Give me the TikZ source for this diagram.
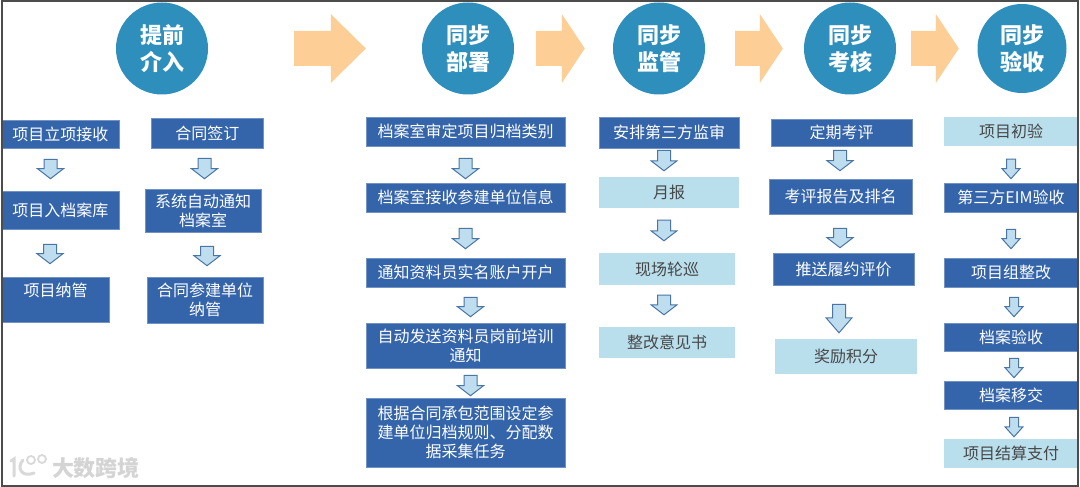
\documentclass[tikz,border=0pt]{standalone}
\usepackage{fontspec}
\setmainfont{Noto Sans CJK SC}
\usepackage{xcolor}
\usetikzlibrary{calc}

\definecolor{stagecol}{HTML}{2E8FBC}
\definecolor{bigarrowcol}{HTML}{FDCF96}
\definecolor{darkcol}{HTML}{3464AA}
\definecolor{lightcol}{HTML}{B9DEEC}
\definecolor{flowcol}{HTML}{BEDDEE}
\definecolor{flowline}{HTML}{4A76A6}

\tikzset{
  stage/.style={circle,fill=stagecol,text=white,minimum size=92pt,inner sep=0pt,align=center,
    font=\fontsize{22}{27}\selectfont\bfseries},
  darkbox/.style={draw=darkcol!70!white,line width=0.6pt,fill=darkcol,text=white,inner sep=0pt,align=center,
    font=\fontsize{16}{19}\selectfont},
  lightbox/.style={fill=lightcol,text=black!72,inner sep=0pt,align=center,
    font=\fontsize{16}{19}\selectfont},
  % block arrows: shaft half width / head half width / head length
  downblock/.style args={#1/#2/#3}{draw=flowline,line width=1pt,fill=flowcol,line join=miter,
    to path={let \p1=(\tikztostart),\p2=(\tikztotarget) in
      (\x1-#1pt,\y1) -- (\x1+#1pt,\y1) -- (\x1+#1pt,\y2+#3pt) -- (\x1+#2pt,\y2+#3pt)
      -- (\x2,\y2) -- (\x1-#2pt,\y2+#3pt) -- (\x1-#1pt,\y2+#3pt) -- cycle}},
  wideflow/.style={downblock=6.5/13/10},
  tallflow/.style={downblock=6.5/13/15},
  narrowflow/.style={downblock=4.5/9/10},
  rightblock/.style={draw=none,fill=bigarrowcol,
    to path={let \p1=(\tikztostart),\p2=(\tikztotarget) in
      (\x1,\y1+17.5pt) -- (\x2-#1pt,\y1+17.5pt) -- (\x2-#1pt,\y1+34.5pt) -- (\x2,\y1)
      -- (\x2-#1pt,\y1-34.5pt) -- (\x2-#1pt,\y1-17.5pt) -- (\x1,\y1-17.5pt) -- cycle}},
  stamp/.style={draw=black!15,line width=3pt,line cap=round}
}

\begin{document}
\begin{tikzpicture}[x=1pt,y=-1pt]

  \useasboundingbox (0,0) rectangle (1080,487);
  \fill[white] (0,0) rectangle (1080,487);

  % stages along the top
  \node[stage] (early) at (162,48.5) {提前\\介入};
  \node[stage] (deploy) at (468,48.5) {同步\\部署};
  \node[stage] (monitor) at (659,48.5) {同步\\监管};
  \node[stage] (assess) at (850,48.5) {同步\\考核};
  \node[stage,minimum size=89pt] (accept) at (1022,48.5) {同步\\验收};

  % orange arrows between stages
  \foreach \from/\to/\ga/\gb/\head in {early/deploy/86/56/35, deploy/monitor/22/28/23,
      monitor/assess/30/21/23, assess/accept/15/18.5/23} {
    \coordinate (tail) at ($(\from.east)+(\ga,0)$);
    \coordinate (tip) at ($(\to.west)+(-\gb,0)$);
    \draw[rightblock=\head] (tail) to (tip);
  }

  % boxes: style/name/centre x/centre y/width/height/text
  \foreach \kind/\name/\x/\y/\w/\h/\txt in {
      darkbox/a1/60.5/134/117/28/{项目立项接收},
      darkbox/a2/60.5/210/117/38/{项目入档案库},
      darkbox/a3/55.5/299.5/107/45/{项目纳管\\~},
      darkbox/b1/207.25/133/112.5/30/{合同签订},
      darkbox/b2/203/210.5/116/43/{系统自动通知\\档案室},
      darkbox/b3/205/300/116/46/{合同参建单位\\纳管},
      darkbox/c1/465.5/131.5/199/29/{档案室审定项目归档类别},
      darkbox/c2/465.5/197.5/199/29/{档案室接收参建单位信息},
      darkbox/c3/465.5/272.5/199/29/{通知资料员实名账户开户},
      darkbox/c4/465.5/345.5/199/45/{自动发送资料员岗前培训\\通知},
      darkbox/c5/465.5/432.5/199/69/{根据合同承包范围设定参\\建单位归档规则、分配数\\据采集任务},
      darkbox/d1/669/132.5/140/31/{安排第三方监审},
      lightbox/d2/669/192.5/140/31/{月报},
      lightbox/d3/667/269/136/32/{现场轮巡},
      lightbox/d4/667/342.5/136/31/{整改意见书},
      darkbox/e1/841.5/132.5/141/27/{定期考评},
      darkbox/e2/840.5/196.5/143/35/{考评报告及排名},
      darkbox/e3/843.5/269/141/32/{推送履约评价},
      lightbox/e4/846/356.5/142/35/{奖励积分},
      lightbox/f1/1011/131.5/134/29/{项目初验},
      darkbox/f2/1011/197.5/134/29/{第三方EIM验收},
      darkbox/f3/1011/272.5/134/29/{项目组整改},
      darkbox/f4/1011/337/134/28/{档案验收},
      darkbox/f5/1011/395/134/28/{档案移交},
      lightbox/f6/1011/453.5/134/29/{项目结算支付}} {
    \node[\kind,minimum width=\w pt,minimum height=\h pt] (\name) at (\x,\y) {\txt};
  }

  % block arrows between boxes: style/from/to/x/gap above/gap below
  \foreach \kind/\from/\to/\x/\ga/\gb in {
      wideflow/a1/a2/50.5/11/12, wideflow/a2/a3/50/15/13,
      wideflow/b1/b2/204.5/10/10, wideflow/b2/b3/207/14/11,
      wideflow/c1/c2/465.5/12/4, wideflow/c2/c3/465.5/16/9,
      wideflow/c3/c4/470.5/10/6, wideflow/c4/c5/470.5/7/2,
      wideflow/d1/d2/664/2/6, wideflow/d2/d3/664/12/12, wideflow/d3/d4/664/10/12,
      wideflow/e1/e2/840/4/8, wideflow/e2/e3/840/14/5, tallflow/e3/e4/839/19/6,
      narrowflow/f1/f2/1011/13/4, narrowflow/f2/f3/1011/17/9,
      narrowflow/f3/f4/1014/10/6, narrowflow/f4/f5/1014/7/3, narrowflow/f5/f6/1014/8/2} {
    \coordinate (top) at ($(\x,0 |- \from.south)+(0,\ga)$);
    \coordinate (tip) at ($(\x,0 |- \to.north)+(0,-\gb)$);
    \draw[\kind] (top) to (tip);
  }

  % outer frame
  \draw[black!70,line width=2pt] (2,1.5) rectangle (1077.5,486);

  % corner stamp
  \draw[stamp] (11,461) -- (14,459) -- (14,476);
  \draw[stamp] (23,460) .. controls (16,468) and (22,478) .. (34,473);
  \draw[stamp,line width=1.8pt] (31,460) circle (4) (42,459) circle (4);
  \node[text=black!17,font=\fontsize{22}{24}\selectfont\bfseries] (stamptext) at (96,468) {大数跨境};

\end{tikzpicture}
\end{document}
